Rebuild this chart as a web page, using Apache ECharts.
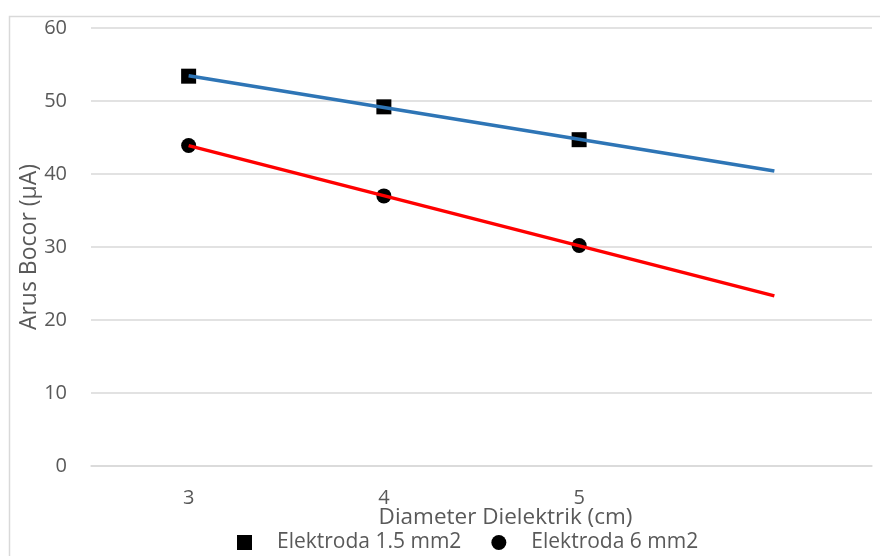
<!DOCTYPE html>
<html>
<head>
<meta charset="utf-8">
<script src="https://cdn.jsdelivr.net/npm/echarts@6/dist/echarts.min.js"></script>
<style>
  html, body { margin: 0; padding: 0; background: #fff; }
  #chart { width: 880px; height: 556px; }
</style>
</head>
<body>
<div id="chart"></div>
<script>
// Dielectric diameter (cm)
const diameters = [3, 4, 5];
// Leakage current (µA) for each electrode size
const elektroda15 = [53.4, 49.2, 44.7];
const elektroda6 = [43.9, 37.0, 30.2];
// Linear trend lines, drawn from x = 3 to x = 6
const trendX = [3, 6];
const trend15 = [53.45, 40.4];
const trend6 = [43.88, 23.3];
const xTickLabels = ['3', '4', '5'];

const font = '"Open Sans", "Noto Sans", sans-serif';
const textColor = '#595959';

const chart = echarts.init(document.getElementById('chart'));
chart.setOption({
  animation: false,
  textStyle: { fontFamily: font },
  graphic: [{
    type: 'rect',
    left: 7, top: 14,
    shape: { width: 900, height: 600 },
    style: { fill: 'none', stroke: '#d9d9d9', lineWidth: 1.5 },
    silent: true,
    z: -1
  }],
  grid: { left: 91, right: 8, top: 28, bottom: 90, outerBoundsMode: 'none', containLabel: false },
  xAxis: {
    type: 'value',
    min: 2.5, max: 6.5, interval: 0.5,
    name: 'Diameter Dielektrik (cm)',
    nameLocation: 'middle',
    nameGap: 40,
    nameMoveOverlap: false,
    nameTextStyle: { fontSize: 22.5, color: textColor, fontFamily: font, padding: [0, 0, 0, 48], lineHeight: 24 },
    axisLine: { show: true, lineStyle: { color: '#d9d9d9', width: 1.5 } },
    axisTick: { show: false },
    splitLine: { show: false },
    axisLabel: {
      fontSize: 20, color: textColor, margin: 22,
      showMinLabel: true, showMaxLabel: true,
      formatter: v => xTickLabels.includes(String(v)) ? String(v) : ''
    }
  },
  yAxis: {
    type: 'value',
    min: 0, max: 60, interval: 10,
    name: 'Arus Bocor (µA)',
    nameLocation: 'middle',
    nameGap: 50,
    nameMoveOverlap: false,
    nameTextStyle: { fontSize: 23, color: textColor, fontFamily: font, lineHeight: 24 },
    axisLine: { show: false },
    axisTick: { show: false },
    splitLine: { lineStyle: { color: '#d9d9d9', width: 1.5 } },
    axisLabel: { fontSize: 20, color: textColor, margin: 24 }
  },
  legend: {
    top: 527,
    left: 232,
    itemWidth: 15, itemHeight: 15,
    itemGap: 30,
    textStyle: { fontSize: 21, color: textColor, fontFamily: font, padding: [0, 0, 0, 20] },
    data: [
      { name: 'Elektroda 1.5 mm2', icon: 'rect', itemStyle: { color: '#000', opacity: 1 } },
      { name: 'Elektroda 6 mm2', icon: 'circle', itemStyle: { color: '#000', opacity: 1 } }
    ]
  },
  series: [
    {
      name: 'trend15', type: 'line',
      data: trendX.map((x, i) => [x, trend15[i]]),
      symbol: 'none',
      lineStyle: { color: '#2e75b6', width: 3.5 },
      z: 3
    },
    {
      name: 'trend6', type: 'line',
      data: trendX.map((x, i) => [x, trend6[i]]),
      symbol: 'none',
      lineStyle: { color: '#ff0000', width: 3.5 },
      z: 3
    },
    {
      name: 'Elektroda 1.5 mm2', type: 'scatter',
      data: diameters.map((x, i) => [x, elektroda15[i]]),
      symbol: 'rect', symbolSize: 15,
      itemStyle: { color: '#000', opacity: 1 },
      z: 2
    },
    {
      name: 'Elektroda 6 mm2', type: 'scatter',
      data: diameters.map((x, i) => [x, elektroda6[i]]),
      symbol: 'circle', symbolSize: 15,
      itemStyle: { color: '#000', opacity: 1 },
      z: 2
    }
  ]
});
</script>
</body>
</html>
